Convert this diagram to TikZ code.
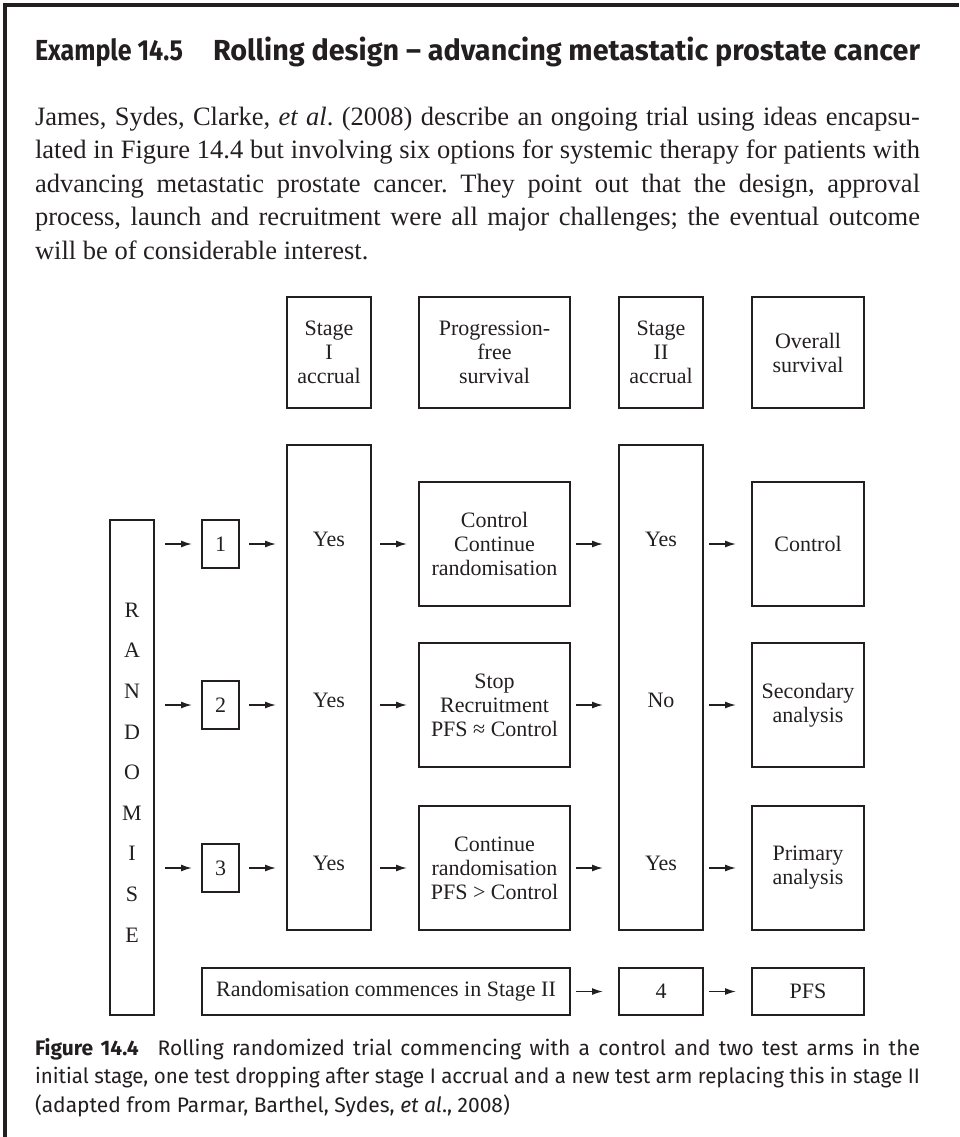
\documentclass[tikz,border=0pt]{standalone}
\usepackage{fontspec}
\usepackage{graphicx}
\setmainfont{Liberation Serif}
\newfontfamily\capfont{Fira Sans}
\usetikzlibrary{arrows.meta}
\definecolor{ink}{RGB}{35,31,32}
\frenchspacing

% one line of text set to an exact width: spaces stretch if it is short,
% letters are narrowed if it is too long
\newsavebox\jlinebox
\newcommand\jline[2]{\sbox\jlinebox{#2}%
  \ifdim\wd\jlinebox>#1\relax\resizebox{#1}{\height}{\usebox\jlinebox}%
  \else\makebox[#1][s]{#2}\fi}

\begin{document}
\begin{tikzpicture}[x=1pt,y=-1pt,
  every node/.style={text=ink, inner sep=0pt, outer sep=0pt},
  box/.style={draw=ink, line width=2pt, inner sep=0pt, align=center,
    font=\fontsize{22}{24}\selectfont},
  lbl/.style={align=center, font=\fontsize{22}{24}\selectfont},
  arr/.style={draw=ink, line width=1.5pt, -{Latex[length=11pt,width=7pt]}},
  bodyline/.style={anchor=base west, font=\fontsize{26.5}{33}\selectfont},
  capline/.style={anchor=base west, font=\capfont\fontsize{21}{28}\selectfont},
  titletext/.style={anchor=base west, font=\capfont\bfseries\fontsize{29}{30}\selectfont},
]
\useasboundingbox (0,0) rectangle (959,1137);

% frame rule on the left and top
\draw[ink, line width=3.5pt] (5,1137) -- (5,5) -- (959,5);

% heading
\node[titletext] (ttlnum) at (35,61) {\resizebox{148pt}{\height}{Example 14.5}};
\node[titletext] (ttl) at (213,61) {\resizebox{707pt}{\height}{Rolling design – advancing metastatic prostate cancer}};

% body text
\node[bodyline] (p1) at (35,125) {\jline{885pt}{James, Sydes, Clarke, \textit{et al}. (2008) describe an ongoing trial using ideas encapsu-}};
\node[bodyline] (p2) at (35,158.5) {\jline{885pt}{lated in Figure 14.4 but involving six options for systemic therapy for patients with}};
\node[bodyline] (p3) at (35,192) {\jline{885pt}{advancing metastatic prostate cancer. They point out that the design, approval}};
\node[bodyline] (p4) at (35,225.5) {\jline{885pt}{process, launch and recruitment were all major challenges; the eventual outcome}};
\node[bodyline] (p5) at (35,259) {will be of considerable interest.};

% column headings
\node[box, minimum width=84pt, minimum height=111pt] (h1) at (329,352.5) {Stage\\I\\accrual};
\node[box, minimum width=151pt, minimum height=111pt] (h2) at (494.5,352.5) {Progression-\\free\\survival};
\node[box, minimum width=84pt, minimum height=111pt] (h3) at (661,352.5) {Stage\\II\\accrual};
\node[box, minimum width=112pt, minimum height=111pt] (h4) at (808,352.5) {Overall\\survival};

% randomise column
\node[box, minimum width=44pt, minimum height=495pt] (rnd) at (132,767.5) {};
\node[lbl, font=\fontsize{22}{40.6}\selectfont] (rndtxt) at (132,772.5) {R\\A\\N\\D\\O\\M\\I\\S\\E};

% arm numbers
\node[box, minimum width=37pt, minimum height=48pt] (n1) at (220.5,544) {1};
\node[box, minimum width=37pt, minimum height=48pt] (n2) at (220.5,705) {2};
\node[box, minimum width=37pt, minimum height=48pt] (n3) at (220.5,868) {3};

% accrual stages
\node[box, minimum width=84pt, minimum height=485pt] (s1) at (329,687.5) {};
\node[box, minimum width=84pt, minimum height=485pt] (s2) at (661,687.5) {};
\node[lbl] (y11) at (329,539) {Yes};
\node[lbl] (y12) at (329,700) {Yes};
\node[lbl] (y13) at (329,863) {Yes};
\node[lbl] (y21) at (661,539) {Yes};
\node[lbl] (y22) at (661,700) {No};
\node[lbl] (y23) at (661,863) {Yes};

% progression-free survival outcomes
\node[box, minimum width=151pt, minimum height=124pt] (a1) at (494.5,544) {Control\\Continue\\randomisation};
\node[box, minimum width=151pt, minimum height=124pt] (a2) at (494.5,705) {Stop\\Recruitment\\PFS \char"2248{} Control};
\node[box, minimum width=151pt, minimum height=124pt] (a3) at (494.5,868) {Continue\\randomisation\\PFS > Control};

% overall survival outcomes
\node[box, minimum width=112pt, minimum height=124pt] (b1) at (808,544) {Control};
\node[box, minimum width=112pt, minimum height=124pt] (b2) at (808,705) {Secondary\\analysis};
\node[box, minimum width=112pt, minimum height=124pt] (b3) at (808,868) {Primary\\analysis};

% stage II arm
\node[box, minimum width=368pt, minimum height=47pt] (rc) at (386,991.5) {Randomisation commences in Stage II};
\node[box, minimum width=84pt, minimum height=47pt] (n4) at (661,991.5) {4};
\node[box, minimum width=112pt, minimum height=47pt] (pfs) at (808,991.5) {PFS};

% arrows along each arm
\foreach \n/\a/\b in {n1/a1/b1, n2/a2/b2, n3/a3/b3}{
  \draw[arr, shorten <=11pt, shorten >=10pt] (rnd.east |- \n) -- (\n.west);
  \draw[arr, shorten <=10pt, shorten >=11pt] (\n.east) -- (s1.west |- \n);
  \draw[arr, shorten <=9pt, shorten >=12pt] (s1.east |- \a) -- (\a.west);
  \draw[arr, shorten <=6pt, shorten >=16pt] (\a.east) -- (s2.west |- \a);
  \draw[arr, shorten <=6pt, shorten >=16pt] (s2.east |- \b) -- (\b.west);
}
\draw[arr, shorten <=6pt, shorten >=16pt] (rc.east) -- (n4.west);
\draw[arr, shorten <=6pt, shorten >=16pt] (n4.east) -- (pfs.west);

% caption
\node[capline] (c1) at (35,1055) {\jline{885pt}{\textbf{Figure 14.4}\hspace{0.9em}Rolling randomized trial commencing with a control and two test arms in the}};
\node[capline] (c2) at (35,1083.5) {\jline{885pt}{initial stage, one test dropping after stage I accrual and a new test arm replacing this in stage II}};
\node[capline] (c3) at (35,1112) {(adapted from Parmar, Barthel, Sydes, \textit{et al}., 2008)};
\end{tikzpicture}
\end{document}
